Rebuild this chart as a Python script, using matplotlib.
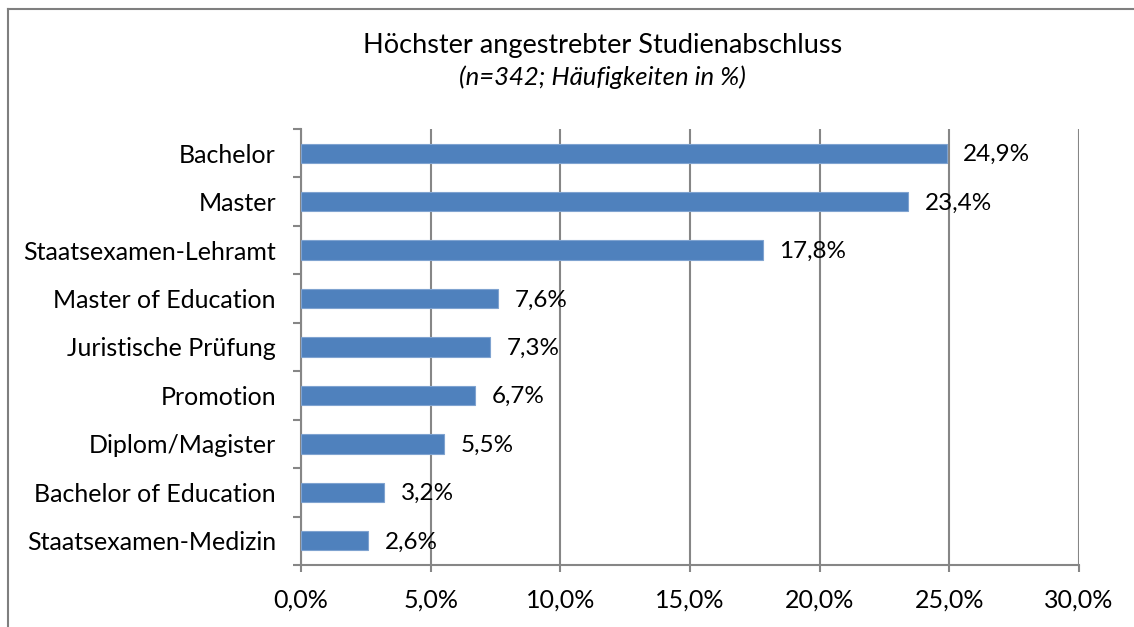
import matplotlib.pyplot as plt
from matplotlib.lines import Line2D

# ---- Daten ----
categories = ["Bachelor", "Master", "Staatsexamen-Lehramt", "Master of Education",
              "Juristische Prüfung", "Promotion", "Diplom/Magister",
              "Bachelor of Education", "Staatsexamen-Medizin"]
values = [24.9, 23.4, 17.8, 7.6, 7.3, 6.7, 5.5, 3.2, 2.6]
x_ticks = [0, 5, 10, 15, 20, 25, 30]

plt.rcParams["font.family"] = ["Lato", "DejaVu Sans"]
BAR = "#4F81BD"
GRID = "#868686"

fig = plt.figure(figsize=(11.34, 6.27), dpi=100)
ax = fig.add_axes([0.2654, 0.0989, 0.686, 0.6954])

n = len(categories)
ypos = list(range(n))
ax.barh(ypos, values, height=0.4, color=BAR, edgecolor="#7FA3D0", linewidth=0.8, zorder=3)
ax.set_ylim(n - 0.5, -0.5)
ax.set_xlim(0, 30)

for y, v in zip(ypos, values):
    ax.annotate(f"{v:.1f}%".replace(".", ","), (v, y), xytext=(12, -1),
                textcoords="offset points", va="center", ha="left", fontsize=17.5, zorder=4)

# x-Achse
ax.set_xticks(x_ticks)
ax.set_xticklabels([f"{t:.1f}%".replace(".", ",") for t in x_ticks], fontsize=18)
ax.tick_params(axis="x", length=5, width=1.5, color=GRID, pad=12)
ax.grid(axis="x", color=GRID, linewidth=1.5, zorder=0)

# y-Achse: Striche zwischen den Kategorien
ax.set_yticks([i - 0.5 for i in range(n + 1)])
ax.set_yticklabels([])
ax.tick_params(axis="y", which="major", length=6, width=1.5, color=GRID)
ax.set_yticks(ypos, minor=True)
ax.set_yticklabels(categories, minor=True, fontsize=18)
ax.tick_params(axis="y", which="minor", length=0, pad=18)

for s in ["top", "right"]:
    ax.spines[s].set_visible(False)
for s in ["left", "bottom"]:
    ax.spines[s].set_color(GRID)
    ax.spines[s].set_linewidth(1.5)

# Titel
fig.text(0.531, 0.927, "Höchster angestrebter Studienabschluss", ha="center", va="center", fontsize=19.5)
fig.text(0.531, 0.877, "(n=342; Häufigkeiten in %)", ha="center", va="center", fontsize=18.5, style="italic")

# Rahmen (oben und links)
fig.add_artist(Line2D([0.007, 1.0], [0.986, 0.986], color="#7F7F7F", linewidth=1.5, transform=fig.transFigure))
fig.add_artist(Line2D([0.007, 0.007], [0.0, 0.986], color="#7F7F7F", linewidth=1.5, transform=fig.transFigure))

fig.savefig("out.png", dpi=100)
